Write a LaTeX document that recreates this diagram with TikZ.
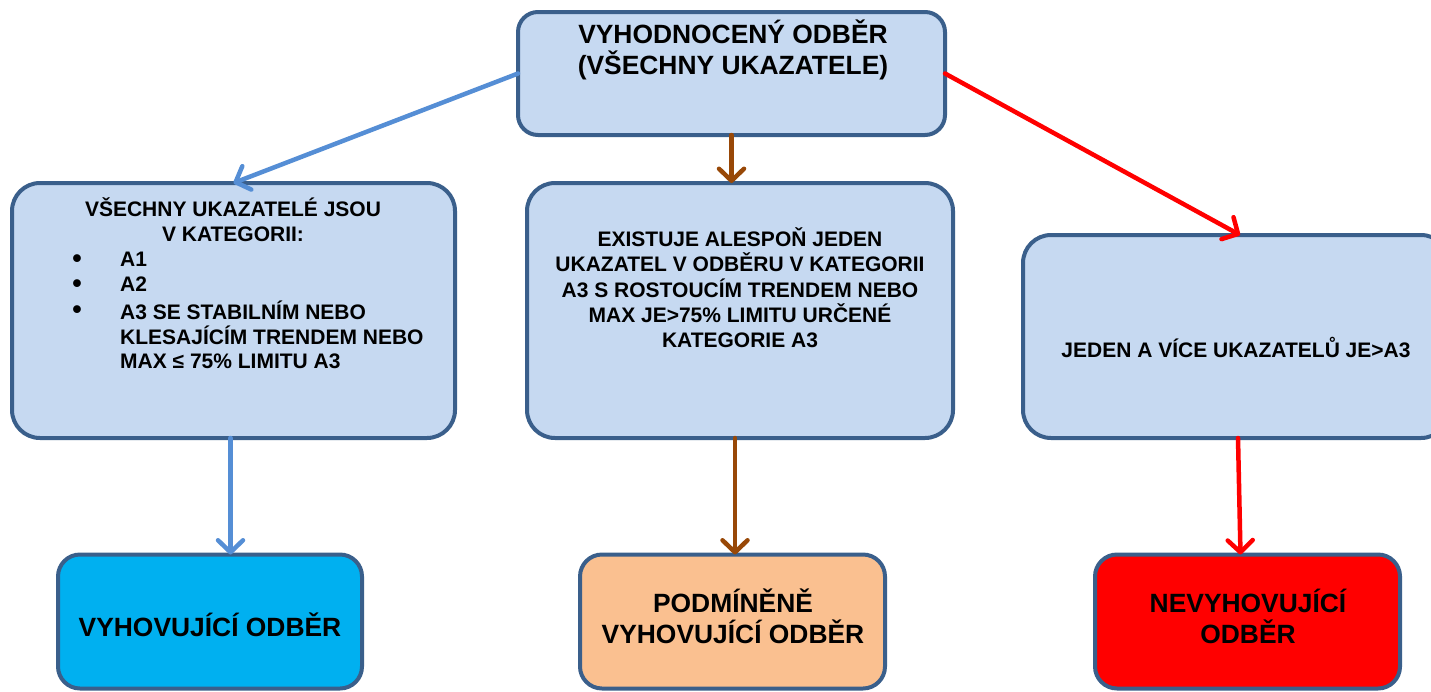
\documentclass[tikz,border=0pt]{standalone}
\usepackage{fontspec}
\setmainfont{Liberation Sans}
\usetikzlibrary{arrows.meta}
\definecolor{boxline}{RGB}{58,95,139}
\definecolor{boxfill}{HTML}{C6D9F1}
\definecolor{okfill}{HTML}{00B0F0}
\definecolor{condfill}{HTML}{FAC090}
\definecolor{badfill}{HTML}{FF0000}
\definecolor{bluearrow}{HTML}{558ED5}
\definecolor{brownarrow}{HTML}{984807}
\definecolor{redarrow}{HTML}{FF0000}
\tikzset{
  box/.style={draw=boxline, line width=4pt, fill=boxfill, inner sep=0pt, outer sep=0pt, rounded corners=28pt},
  smallbox/.style={box, rounded corners=22pt},
  bigtxt/.style={font=\bfseries\fontsize{26.4}{31}\selectfont, align=center, inner sep=0pt},
  txt/.style={font=\bfseries\fontsize{21}{25.3}\selectfont, align=center, inner sep=0pt},
  bulletmark/.style={font=\bfseries\fontsize{27}{27}\selectfont, inner sep=0pt, anchor=base},
  conn/.style={line width=4.5pt, line cap=round, -{Straight Barb[length=12pt,width=25pt,round]}}
}
\begin{document}
\begin{tikzpicture}[x=1pt, y=-1pt]
\useasboundingbox (0,0) rectangle (1431,691);
% boxes
\node[box, rounded corners=20pt, minimum width=427pt, minimum height=123pt] (top) at (731.5,73.5) {};
\node[box, minimum width=443pt, minimum height=255pt] (left) at (233.5,310.5) {};
\node[box, minimum width=426pt, minimum height=255pt] (mid) at (740,310.5) {};
\node[box, minimum width=426pt, minimum height=203pt] (right) at (1236,336.5) {};
\node[smallbox, fill=okfill, minimum width=304pt, minimum height=134pt] (lb) at (210,621.5) {};
\node[smallbox, fill=condfill, minimum width=305pt, minimum height=134pt] (mb) at (732.5,621.5) {};
\node[smallbox, fill=badfill, minimum width=305pt, minimum height=134pt] (rb) at (1247.5,621.5) {};
% texts
\node[bigtxt] (toptxt) at (733,50) {VYHODNOCENÝ ODBĚR\\(VŠECHNY UKAZATELE)};
\node[txt] (lefthead) at (233,220) {VŠECHNY UKAZATELÉ JSOU\\V KATEGORII:};
\foreach \i/\y/\t in {1/259/A1, 2/284.5/A2, 3/310/A3 SE STABILNÍM NEBO, 4/335.5/KLESAJÍCÍM TRENDEM NEBO, 5/361/MAX ≤ 75\% LIMITU A3}
  \node[txt, anchor=west] (item\i) at (120,\y) {\t};
\foreach \i/\y in {1/267, 2/292.5, 3/318}
  \node[bulletmark] (bullet\i) at (77,\y) {•};
\node[txt] (midtxt) at (740,288) {EXISTUJE ALESPOŇ JEDEN\\UKAZATEL V ODBĚRU V KATEGORII\\A3 S ROSTOUCÍM TRENDEM NEBO\\MAX JE>75\% LIMITU URČENÉ\\KATEGORIE A3};
\node[txt] (righttxt) at (1236,347) {JEDEN A VÍCE UKAZATELŮ JE>A3};
\node[bigtxt] (lbtxt) at (210,625) {VYHOVUJÍCÍ ODBĚR};
\node[bigtxt] (mbtxt) at (733,616) {PODMÍNĚNĚ\\VYHOVUJÍCÍ ODBĚR};
\node[bigtxt] (rbtxt) at (1248,616) {NEVYHOVUJÍCÍ\\ODBĚR};
% connectors
\draw[conn, bluearrow] (top.west) -- (left.north);
\draw[conn, brownarrow] (top.south) -- (top.south |- mid.north);
\draw[conn, redarrow] (top.east) -- ([xshift=4pt]right.north);
\draw[conn, bluearrow] ([xshift=-3pt]left.south) -- ([xshift=-3pt]left.south |- lb.north);
\draw[conn, brownarrow] ([xshift=-5pt]mid.south) -- ([xshift=-5pt]mid.south |- mb.north);
\draw[conn, redarrow] ([xshift=2pt]right.south) -- ([xshift=-7pt]rb.north);
\end{tikzpicture}
\end{document}
